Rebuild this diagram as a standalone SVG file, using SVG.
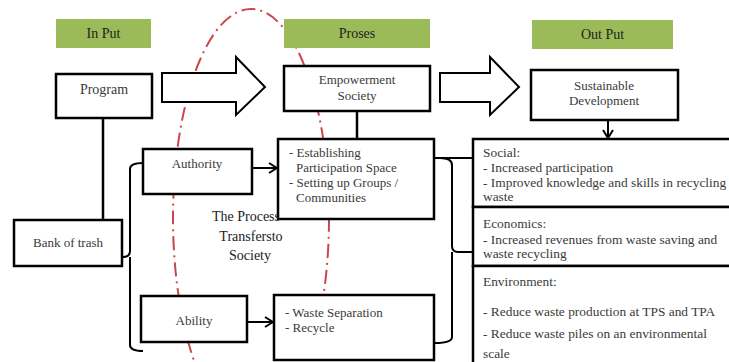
<svg xmlns="http://www.w3.org/2000/svg" width="729" height="362" viewBox="0 0 729 362">
<defs>
<style>
.hdr{fill:#9BBB59;}
.box{fill:#fff;stroke:#000;stroke-width:2.5;}
.big{fill:#fff;stroke:#000;stroke-width:2;}
.t{font-family:"Liberation Serif","Times New Roman",serif;font-size:13px;fill:#3a3a3a;}
.o{font-size:13.4px;}
.h{font-family:"Liberation Serif","Times New Roman",serif;font-size:14px;fill:#222;text-anchor:middle;}
.c{text-anchor:middle;}
.ln{fill:none;stroke:#000;stroke-width:2.5;}
.br{fill:none;stroke:#000;stroke-width:2;}
</style>
<marker id="arr" viewBox="0 0 10 12" refX="9" refY="6" markerWidth="10" markerHeight="12" markerUnits="userSpaceOnUse" orient="auto">
<path d="M1,1 L9,6 L1,11" fill="none" stroke="#000" stroke-width="2"/>
</marker>
</defs>
<rect width="729" height="362" fill="#fff"/>

<g id="process-ellipse">
<ellipse cx="251" cy="218" rx="78" ry="209" fill="none" stroke="#C9474C" stroke-width="2" stroke-dasharray="14 5 2 5"/>
</g>

<g id="headers">
<g id="h-input"><rect class="hdr" x="56" y="19" width="95" height="29"/><text class="h" x="103.5" y="38">In Put</text></g>
<g id="h-proses"><rect class="hdr" x="284" y="19" width="146" height="29"/><text class="h" x="357" y="38">Proses</text></g>
<g id="h-output"><rect class="hdr" x="532" y="20" width="141" height="29"/><text class="h" x="602.5" y="39">Out Put</text></g>
</g>

<g id="big-arrows">
<path class="big" d="M162,73 H236 V57 L265,87 L236,115 V102 H162 Z"/>
<path class="big" d="M440,73 H490 V57 L519,87 L490,115 V102 H440 Z"/>
</g>

<g id="connectors">
<line class="ln" x1="103" y1="105" x2="103" y2="220"/>
<line class="ln" x1="357" y1="111" x2="357" y2="139"/>
<line class="br" x1="608" y1="104" x2="608" y2="138" marker-end="url(#arr)"/>
<line class="br" x1="252" y1="168" x2="277" y2="168" marker-end="url(#arr)"/>
<line class="br" x1="247" y1="322" x2="273" y2="322" marker-end="url(#arr)"/>
<path class="br" d="M143,163 Q130,163 130,169 V251 Q130,257 123,257 M130,257 V345 Q130,351 143,351"/>
<path class="br" d="M434,158 H473 M440,158 Q452,158 452,165 V246 Q452,252 458,252 H473 M452,252 V337 Q452,343 435,343"/>
</g>

<g id="program"><rect class="box" x="56" y="74" width="96" height="44"/><text class="t c" x="104" y="94" style="font-size:14px">Program</text></g>

<g id="empowerment"><rect class="box" x="284" y="66" width="146" height="45"/><text class="t c" x="357" y="84">Empowerment</text><text class="t c" x="357" y="100">Society</text></g>

<g id="sustainable"><rect class="box" x="531" y="70" width="147" height="50"/><text class="t c" x="604" y="90">Sustainable</text><text class="t c" x="604" y="105">Development</text></g>

<g id="bank"><rect class="box" x="14" y="220" width="108" height="46"/><text class="t c" x="68" y="247">Bank of trash</text></g>

<g id="authority"><rect class="box" x="143" y="149" width="109" height="45"/><text class="t c" x="197" y="168">Authority</text></g>

<g id="ability"><rect class="box" x="141" y="296" width="106" height="46"/><text class="t c" x="194" y="325">Ability</text></g>

<g id="establishing"><rect class="box" x="278" y="139" width="156" height="80"/>
<text class="t" x="289" y="157">- Establishing</text>
<text class="t" x="296" y="172">Participation Space</text>
<text class="t" x="289" y="187">- Setting up Groups /</text>
<text class="t" x="296" y="202">Communities</text>
</g>

<g id="waste"><rect class="box" x="274" y="295" width="160" height="65"/>
<text class="t" x="285" y="317">- Waste Separation</text>
<text class="t" x="285" y="332">- Recycle</text>
</g>

<g id="label-process">
<text class="h" x="246" y="221">The Process</text>
<text class="h" x="251" y="241">Transfersto</text>
<text class="h" x="250" y="260">Society</text>
</g>

<g id="social"><rect class="box" x="473" y="139" width="262" height="68"/>
<text class="t o" x="483" y="157">Social:</text>
<text class="t o" x="483" y="172">- Increased participation</text>
<text class="t o" x="483" y="187">- Improved knowledge and skills in recycling</text>
<text class="t o" x="483" y="201">waste</text>
</g>

<g id="economics"><rect class="box" x="473" y="207" width="262" height="59"/>
<text class="t o" x="483" y="228">Economics:</text>
<text class="t o" x="483" y="244"> - Increased revenues from waste saving and</text>
<text class="t o" x="483" y="258">waste recycling</text>
</g>

<g id="environment"><rect class="box" x="473" y="266" width="262" height="110"/>
<text class="t o" x="483" y="286">Environment:</text>
<text class="t o" x="483" y="316">- Reduce waste production at TPS and TPA</text>
<text class="t o" x="483" y="338">- Reduce waste piles on an environmental</text>
<text class="t o" x="483" y="358">scale</text>
</g>
</svg>
